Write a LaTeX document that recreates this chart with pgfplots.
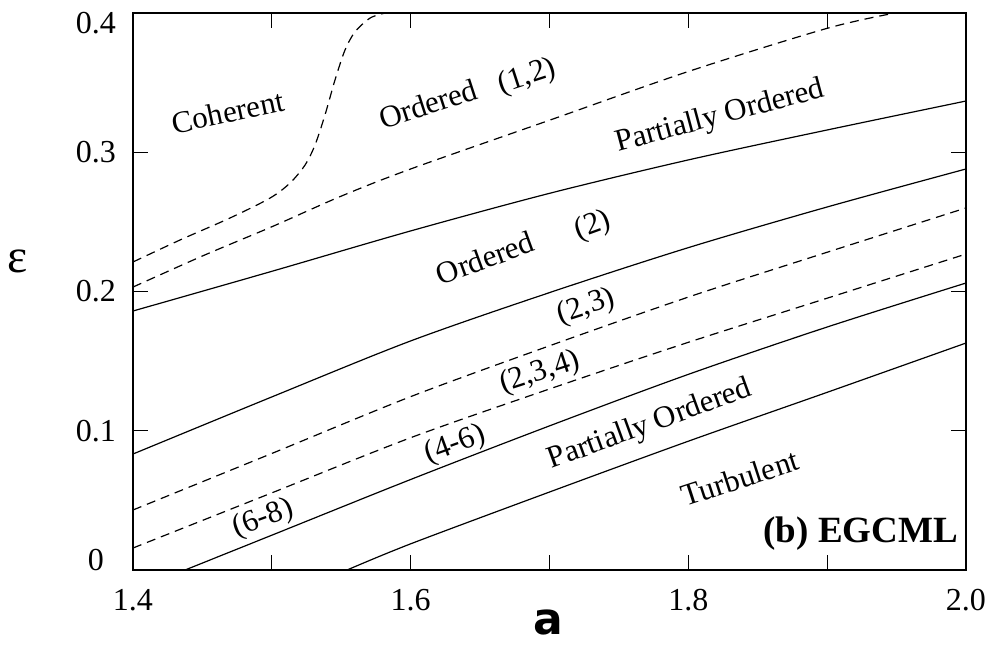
\documentclass[border=0pt]{standalone}
\usepackage{fontspec}
\setmainfont{Liberation Serif}
\newfontfamily\sansb{DejaVu Sans}
\usepackage{pgfplots}
\pgfplotsset{compat=1.18}
\begin{document}
\begin{tikzpicture}
\path[use as bounding box] (-66.5pt,-37.5pt) rectangle (426.5pt,285pt);
\begin{axis}[
  at={(0,0)}, anchor=south west, scale only axis,
  width=416.5pt, height=278.5pt,
  xmin=1.4, xmax=2.0, ymin=0, ymax=0.4,
  xtick={1.4,1.5,1.6,1.7,1.8,1.9,2.0},
  xticklabels={1.4,,1.6,,1.8,,2.0},
  ytick={0,0.1,0.2,0.3,0.4},
  yticklabels={\raisebox{-0.4pt}[0pt][0pt]{\makebox[1.25em][c]{0}},0.1,0.2,0.3,\raisebox{-10.4pt}[0pt][0pt]{0.4}},
  tick align=inside, major tick length=7.5pt,
  tick style={black, line width=0.5pt},
  axis line style={line width=1pt},
  ticklabel style={font=\fontsize{16}{19}\selectfont},
  xticklabel style={yshift=-6pt},
  yticklabel style={xshift=-5pt},
  cycle list={{black,solid}},
  every axis plot/.append style={black, no markers, line width=0.6pt, smooth, tension=0.5},
]
% solid boundaries
\addplot[solid] coordinates {(1.4,0.186) (1.5,0.2145) (1.6,0.2435) (1.7,0.2705) (1.8,0.2945) (1.9,0.316) (2.0,0.3368)};
\addplot[solid] coordinates {(1.4,0.0833) (1.5,0.1243) (1.6,0.1645) (1.7,0.1992) (1.8,0.2315) (1.9,0.2607) (2.0,0.288)};
\addplot[solid] coordinates {(1.4375,0) (1.5,0.025) (1.6,0.065) (1.7,0.1035) (1.8,0.1405) (1.9,0.1745) (2.0,0.2061)};
\addplot[solid] coordinates {(1.5542,0) (1.6,0.0188) (1.7,0.0560) (1.8,0.0925) (1.9,0.1276) (2.0,0.163)};
% dashed boundaries
\addplot[dash pattern=on 4.5pt off 3pt] coordinates {(1.4,0.0431) (1.5,0.0837) (1.6,0.1245) (1.7,0.1610) (1.8,0.1960) (1.9,0.2282) (2.0,0.260)};
\addplot[dash pattern=on 4.5pt off 3pt] coordinates {(1.4,0.0158) (1.5,0.0554) (1.6,0.0950) (1.7,0.1300) (1.8,0.1635) (1.9,0.1952) (2.0,0.2269)};
\addplot[dash pattern=on 4.5pt off 3pt] coordinates {(1.4,0.2032) (1.45,0.2255) (1.5,0.2465) (1.55,0.2685) (1.6,0.2880) (1.7,0.3230) (1.8,0.3580) (1.9,0.3890) (1.949,0.4)};
\addplot[dash pattern=on 4.5pt off 3pt] coordinates {(1.4,0.2212) (1.4339,0.237) (1.4699,0.2528) (1.4987,0.2671) (1.5131,0.2779) (1.5239,0.2908) (1.5311,0.3052) (1.5383,0.3268) (1.5455,0.3519) (1.5527,0.3734) (1.5599,0.3864) (1.5708,0.3964) (1.5816,0.4)};
% region labels
\begin{scope}[every node/.style={font=\fontsize{15.5}{18}\selectfont}]
\node[rotate=12] at (axis cs:1.4684,0.3289) {Coherent};
\node[rotate=18] at (axis cs:1.6125,0.3346) {Ordered};
\node[rotate=18] at (axis cs:1.6839,0.354) {(1,2)};
\node[rotate=15] at (axis cs:1.8229,0.3253) {Partially Ordered};
\node[rotate=20] at (axis cs:1.6536,0.2241) {Ordered};
\node[rotate=20] at (axis cs:1.7314,0.247) {(2)};
\node[rotate=18] at (axis cs:1.7264,0.1889) {(2,3)};
\node[rotate=18] at (axis cs:1.6932,0.1415) {(2,3,4)};
\node[rotate=20] at (axis cs:1.632,0.0898) {(4-6)};
\node[rotate=20] at (axis cs:1.4937,0.0366) {(6-8)};
\node[rotate=20] at (axis cs:1.7725,0.1041) {Partially Ordered};
\node[rotate=18] at (axis cs:1.8373,0.0661) {Turbulent};
\end{scope}
\node[anchor=base east, inner sep=0pt, font=\bfseries\fontsize{18.5}{21}\selectfont] at (axis cs:1.9944,0.0201) {(b) EGCML};
\end{axis}
\node[anchor=base, inner sep=0pt, font=\sansb\bfseries\fontsize{22}{26}\selectfont] at (207.5pt,-32pt) {a};
\node[font=\fontsize{24}{28}\selectfont] at (-57.5pt,154.5pt) {ε};
\end{tikzpicture}
\end{document}
